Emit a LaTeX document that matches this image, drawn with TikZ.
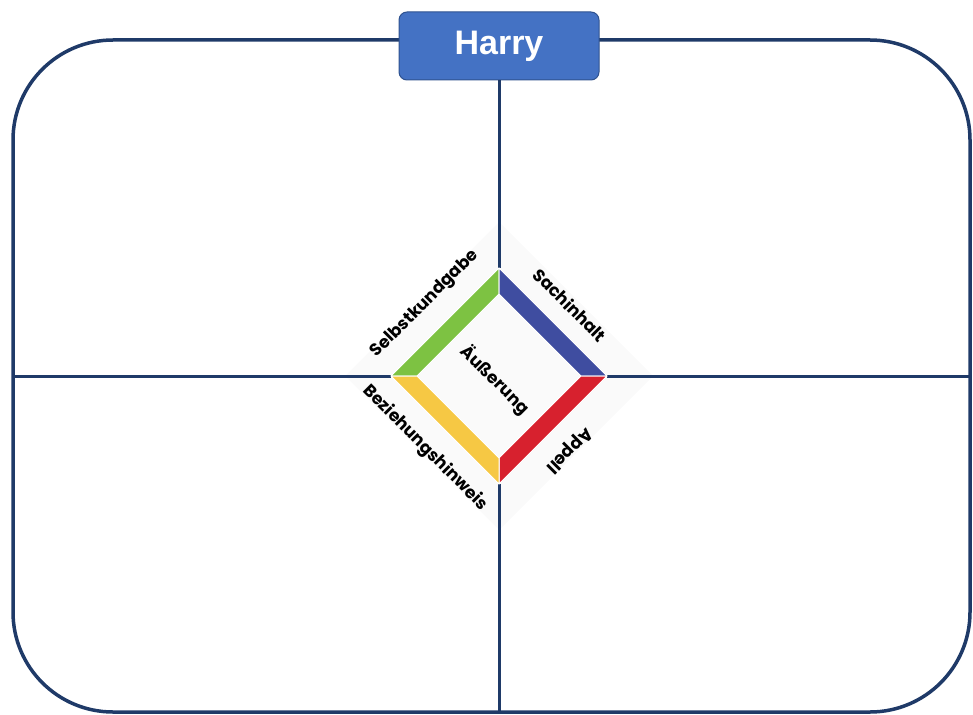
\documentclass[tikz,border=0pt]{standalone}
\usepackage{fontspec}
\setmainfont{Liberation Sans}
\newfontfamily\handfont{Poppins}
\usetikzlibrary{positioning}
\definecolor{navy}{HTML}{1F3A68}
\definecolor{harryblue}{HTML}{4472C4}
\definecolor{harryedge}{HTML}{2F528F}
\definecolor{sgreen}{HTML}{7DC242}
\definecolor{sblue}{HTML}{3F4DA0}
\definecolor{sred}{HTML}{D7212E}
\definecolor{syellow}{HTML}{F6C844}

\begin{document}
\begin{tikzpicture}[x=1pt,y=-1pt]
    \tikzset{frame/.style = {draw=navy, line width=3.5pt, rounded corners=100pt}}
    \tikzset{axis/.style = {draw=navy, line width=3pt}}
    \tikzset{bar/.style = {draw=white, line width=1pt, line join=round}}
    \tikzset{side/.style = {font=\handfont\bfseries\fontsize{17}{20}\selectfont}}
    \tikzset{title/.style = {draw=harryedge, fill=harryblue, line width=1pt,
        rounded corners=8pt, minimum width=200pt, minimum height=68pt,
        text=white, font=\bfseries\fontsize{34}{40}\selectfont}}
    \useasboundingbox (0,0) rectangle (973,714);
    % frame
    \draw[frame] (13,40) rectangle (970,712);
    \fill[gray!4] (499,222) -- (653,376) -- (499,530) -- (345,376) -- cycle;
    % corners of the square
    \coordinate (t) at (499,268);
    \coordinate (r) at (607,376);
    \coordinate (b) at (499,484);
    \coordinate (l) at (391,376);
    \coordinate (it) at (499,294);
    \coordinate (ir) at (581,376);
    \coordinate (ib) at (499,458);
    \coordinate (il) at (417,376);
    % ends on the frame
    \coordinate (w) at (13,376);
    \coordinate (e) at (970,376);
    \coordinate (s) at (499,712);
    % title
    \node[title] (harry) at (499,46) {Harry};
    % axes
    \draw[axis] (harry.south) -- (t);
    \draw[axis] (b) -- (s);
    \draw[axis] (w) -- (l);
    \draw[axis] (r) -- (e);
    % sides
    \filldraw[bar, fill=sgreen] (l) -- (t) -- (it) -- (il) -- cycle;
    \filldraw[bar, fill=sblue] (t) -- (r) -- (ir) -- (it) -- cycle;
    \filldraw[bar, fill=sred] (r) -- (b) -- (ib) -- (ir) -- cycle;
    \filldraw[bar, fill=syellow] (b) -- (l) -- (il) -- (ib) -- cycle;
    % labels
    \node[side, rotate=45] (selbst) at (425,304) {Selbstkundgabe};
    \node[side, rotate=-45] (sach) at (570,305) {Sachinhalt};
    \node[side, rotate=225] (appell) at (569,450) {Appell};
    \node[side, rotate=-45] (bez) at (425,448) {Beziehungshinweis};
    \node[side, rotate=-45] (aeuss) at (495,380) {Äußerung};
\end{tikzpicture}
\end{document}
